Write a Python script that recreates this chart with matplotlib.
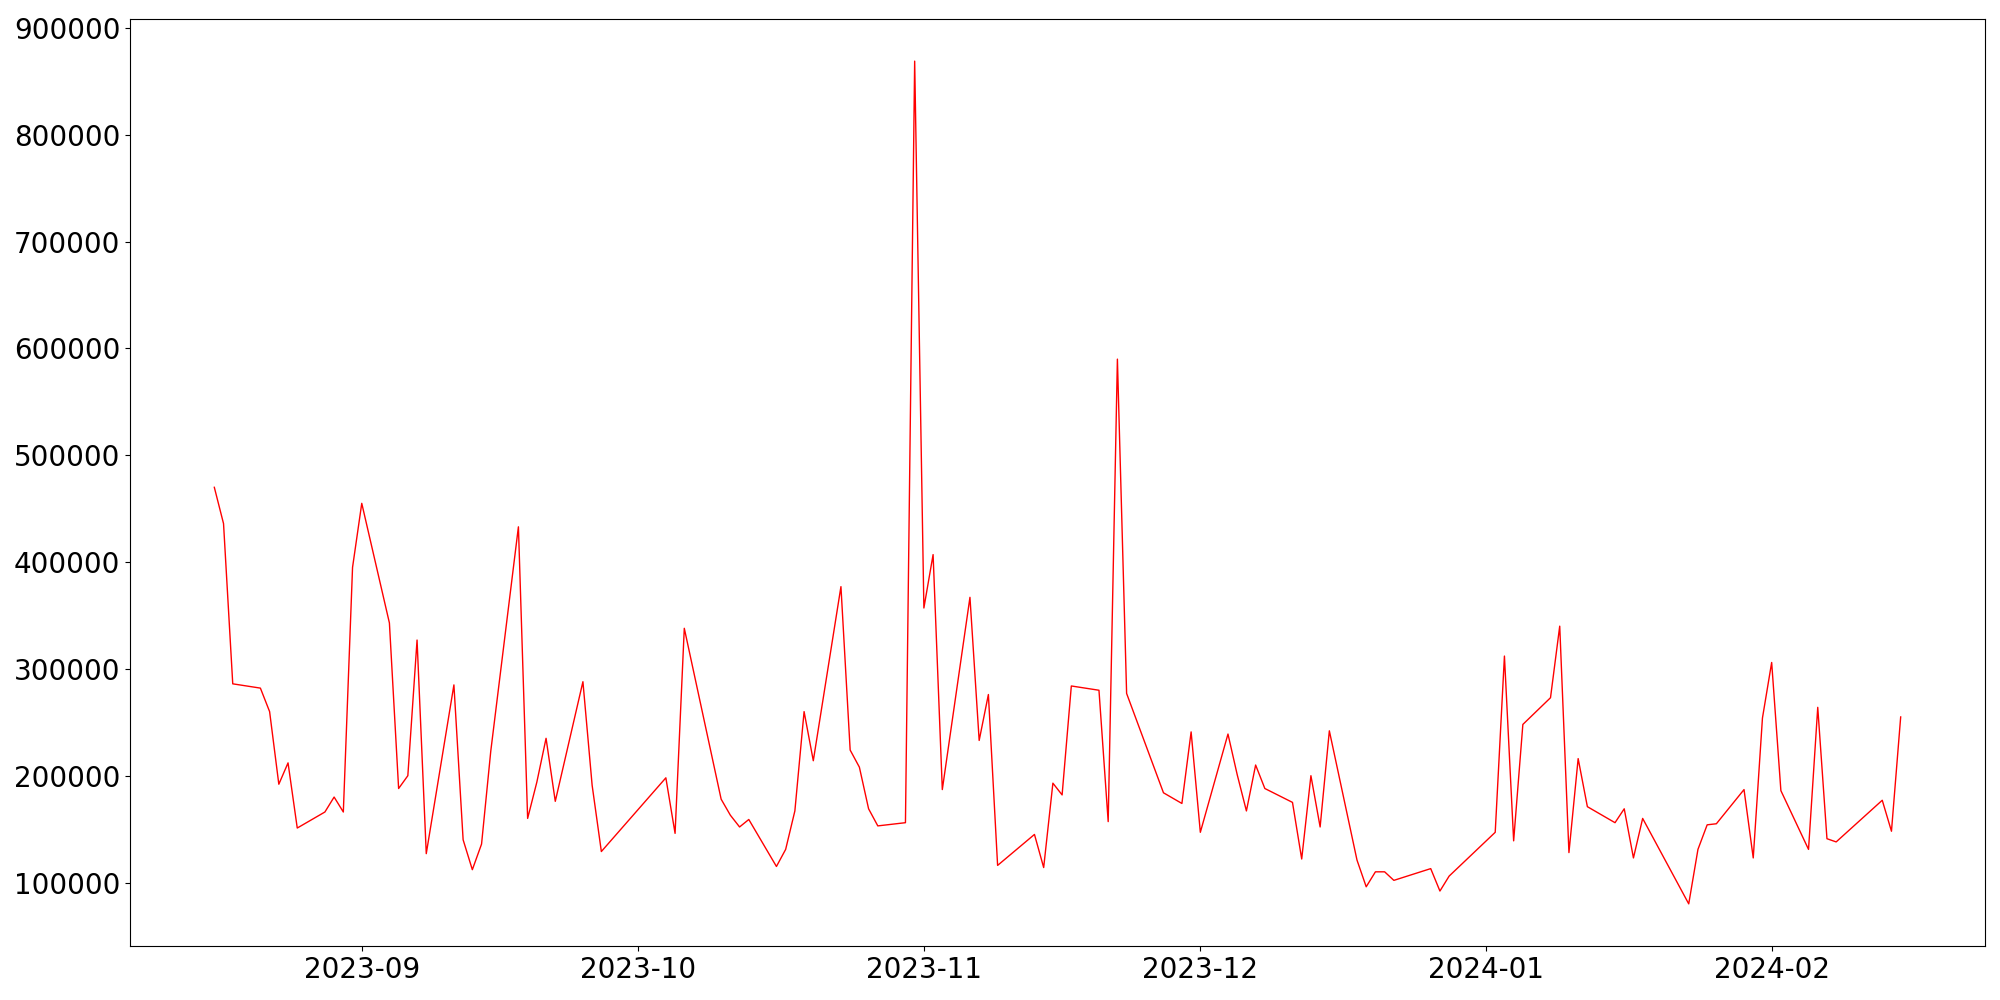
import pandas as pd
from matplotlib import pyplot as plt

dates = ['2023-08-16', '2023-08-17', '2023-08-18', '2023-08-21', '2023-08-22', '2023-08-23',
         '2023-08-24', '2023-08-25', '2023-08-28', '2023-08-29', '2023-08-30', '2023-08-31',
         '2023-09-01', '2023-09-04', '2023-09-05', '2023-09-06', '2023-09-07', '2023-09-08',
         '2023-09-11', '2023-09-12', '2023-09-13', '2023-09-14', '2023-09-15', '2023-09-18',
         '2023-09-19', '2023-09-20', '2023-09-21', '2023-09-22', '2023-09-25', '2023-09-26',
         '2023-09-27', '2023-10-04', '2023-10-05', '2023-10-06', '2023-10-10', '2023-10-11',
         '2023-10-12', '2023-10-13', '2023-10-16', '2023-10-17', '2023-10-18', '2023-10-19',
         '2023-10-20', '2023-10-23', '2023-10-24', '2023-10-25', '2023-10-26', '2023-10-27',
         '2023-10-30', '2023-10-31', '2023-11-01', '2023-11-02', '2023-11-03', '2023-11-06',
         '2023-11-07', '2023-11-08', '2023-11-09', '2023-11-13', '2023-11-14', '2023-11-15',
         '2023-11-16', '2023-11-17', '2023-11-20', '2023-11-21', '2023-11-22', '2023-11-23',
         '2023-11-27', '2023-11-29', '2023-11-30', '2023-12-01', '2023-12-04', '2023-12-05',
         '2023-12-06', '2023-12-07', '2023-12-08', '2023-12-11', '2023-12-12', '2023-12-13',
         '2023-12-14', '2023-12-15', '2023-12-18', '2023-12-19', '2023-12-20', '2023-12-21',
         '2023-12-22', '2023-12-26', '2023-12-27', '2023-12-28', '2024-01-02', '2024-01-03',
         '2024-01-04', '2024-01-05', '2024-01-08', '2024-01-09', '2024-01-10', '2024-01-11',
         '2024-01-12', '2024-01-15', '2024-01-16', '2024-01-17', '2024-01-18', '2024-01-23',
         '2024-01-24', '2024-01-25', '2024-01-26', '2024-01-29', '2024-01-30', '2024-01-31',
         '2024-02-01', '2024-02-02', '2024-02-05', '2024-02-06', '2024-02-07', '2024-02-08',
         '2024-02-13', '2024-02-14', '2024-02-15']

values = [470000, 436000, 286000, 282000, 260000, 192000,
          212000, 151000, 166000, 180000, 166000, 395000,
          455000, 343000, 188000, 200000, 327000, 127000,
          285000, 140000, 112000, 136000, 223000, 433000,
          160000, 194000, 235000, 176000, 288000, 191000,
          129000, 198000, 146000, 338000, 178000, 163000,
          152000, 159000, 115000, 131000, 167000, 260000,
          214000, 377000, 224000, 208000, 169000, 153000,
          156000, 869000, 357000, 407000, 187000, 367000,
          233000, 276000, 116000, 145000, 114000, 193000,
          182000, 284000, 280000, 157000, 590000, 277000,
          184000, 174000, 241000, 147000, 239000, 201000,
          167000, 210000, 188000, 175000, 122000, 200000,
          152000, 242000, 121000, 96000, 110000, 110000,
          102000, 113000, 92000, 106000, 147000, 312000,
          139000, 248000, 273000, 340000, 128000, 216000,
          171000, 156000, 169000, 123000, 160000, 80000,
          131000, 154000, 155000, 187000, 123000, 254000,
          306000, 186000, 131000, 264000, 141000, 138000,
          177000, 148000, 255000]

x = pd.to_datetime(dates)

fig = plt.figure(figsize=(20, 10), dpi=100)
ax = fig.add_subplot(111)
ax.plot(x, values, color='red', linewidth=1)
ax.tick_params(labelsize=20)
fig.subplots_adjust(left=0.065, right=0.9925, top=0.981, bottom=0.054)
plt.savefig('out.png')
